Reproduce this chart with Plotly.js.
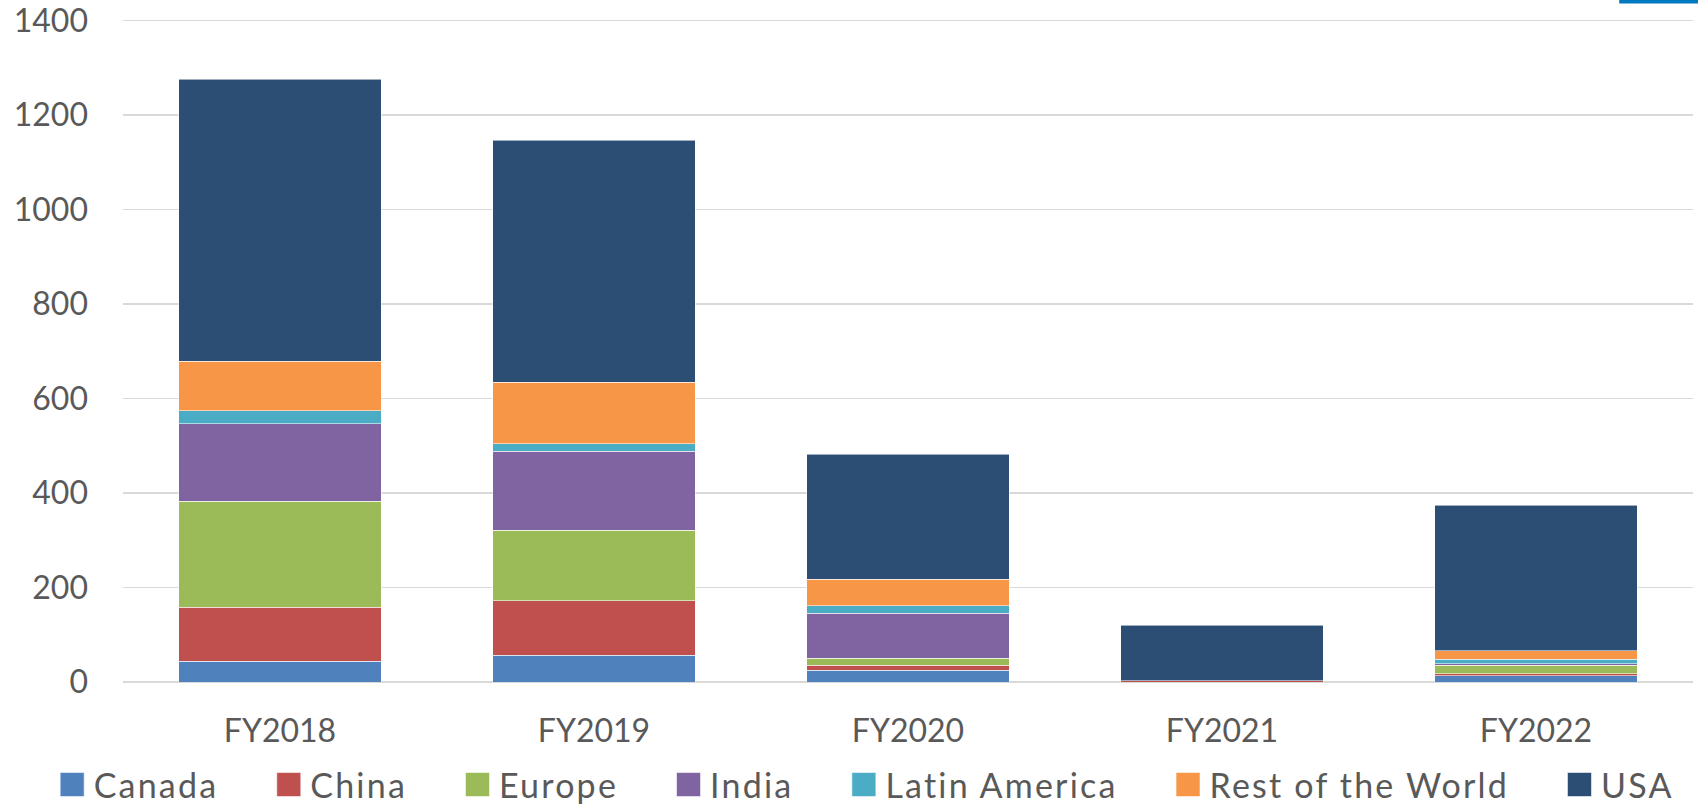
<!DOCTYPE html>
<html>
<head>
<meta charset="utf-8">
<script src="https://cdn.plot.ly/plotly-3.0.1.min.js"></script>
<style>
html,body{margin:0;padding:0;background:#fff;}
#chart{width:1698px;height:806px;}
.legend .legendpoints path{ d: path("M34,12H10V-12H34Z"); }
text.legendtext{ letter-spacing: 2.2px; }
</style>
</head>
<body>
<div id="chart"></div>
<script>
const years = ["FY2018", "FY2019", "FY2020", "FY2021", "FY2022"];
const canada = [44, 57, 25, 0, 13];
const china = [114, 115, 10, 3, 4];
const europe = [225, 149, 15, 0, 18];
const india = [163, 167, 95, 0, 4];
const latinAmerica = [28, 16, 16, 0, 9];
const restOfWorld = [105, 130, 56, 0, 18];
const usa = [596, 512, 265, 117, 308];

const seriesNames = ["Canada", "China", "Europe", "India", "Latin America", "Rest of the World", "USA"];
const seriesValues = [canada, china, europe, india, latinAmerica, restOfWorld, usa];
const seriesColors = ["#4F81BD", "#C0504D", "#9BBB59", "#8064A2", "#4BACC6", "#F79646", "#2C4E74"];

const traces = seriesNames.map((n, i) => ({
  type: "bar",
  name: n,
  x: years,
  y: seriesValues[i],
  marker: { color: seriesColors[i], line: { color: "rgba(255,255,255,0.55)", width: 1 } },
  hoverinfo: "skip"
}));

const font = { family: "Lato, 'Open Sans', sans-serif", size: 32, color: "#595959" };
const legendFont = { family: "Lato, 'Open Sans', sans-serif", size: 34, color: "#595959" };

const layout = {
  width: 1698,
  height: 806,
  margin: { l: 123, r: 5, t: 18, b: 124, autoexpand: false },
  paper_bgcolor: "#ffffff",
  plot_bgcolor: "#ffffff",
  barmode: "stack",
  bargap: 0.354,
  font: font,
  showlegend: true,
  legend: {
    orientation: "h",
    xref: "paper", yref: "paper",
    x: -0.0741, xanchor: "left",
    y: -0.155, yanchor: "middle",
    font: legendFont,
    itemwidth: 77,
    traceorder: "normal",
    itemclick: false
  },
  xaxis: {
    type: "category",
    showgrid: false,
    showline: false,
    zeroline: false,
    ticks: "",
    tickfont: font,
    ticklabelstandoff: 27
  },
  yaxis: {
    range: [0, 1405],
    tickvals: [0, 200, 400, 600, 800, 1000, 1200, 1400],
    showgrid: true,
    gridcolor: "#D9D9D9",
    gridwidth: 1.5,
    zeroline: true,
    zerolinecolor: "#D9D9D9",
    zerolinewidth: 1.5,
    showline: false,
    ticks: "",
    tickfont: font,
    ticklabelstandoff: 34,
    ticklabeloverflow: "allow"
  },
  shapes: [{
    type: "rect", xref: "paper", yref: "paper",
    x0: 0.953, x1: 1.01, y0: 1.022, y1: 1.04,
    fillcolor: "#0079C1", line: { width: 0 }
  }]
};

Plotly.newPlot("chart", traces, layout, { displayModeBar: false, staticPlot: true });
</script>
</body>
</html>
